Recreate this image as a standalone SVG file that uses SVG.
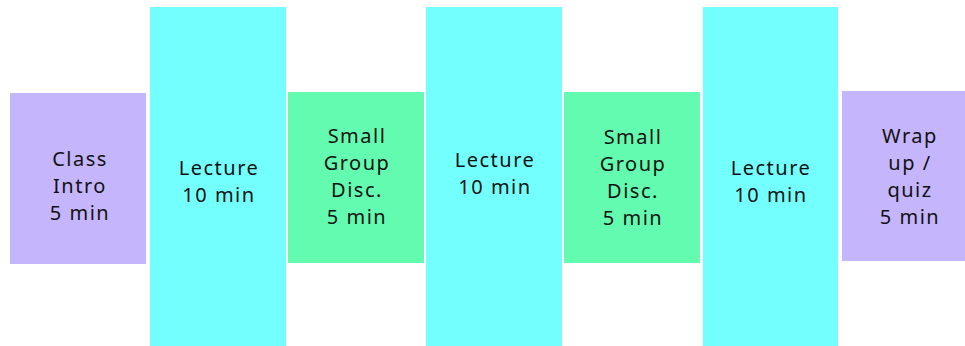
<svg xmlns="http://www.w3.org/2000/svg" width="965" height="346" viewBox="0 0 965 346">
  <style>
    .intro { fill: #c4b5fc; }
    .lecture { fill: #72fffd; }
    .group { fill: #63fbb0; }
    text { font-family: "Noto Sans", "DejaVu Sans", sans-serif; font-size: 20px; letter-spacing: 1.5px; fill: #111; text-anchor: middle; }
  </style>
  <rect width="965" height="346" fill="#ffffff"/>

  <g id="class-intro">
    <rect class="intro" x="10" y="93" width="136" height="171"/>
    <text x="80" y="166">Class</text>
    <text x="80" y="193">Intro</text>
    <text x="80" y="220">5 min</text>
  </g>

  <g id="lecture-1">
    <rect class="lecture" x="150" y="7" width="136" height="339"/>
    <text x="219" y="175">Lecture</text>
    <text x="219" y="202">10 min</text>
  </g>

  <g id="small-group-1">
    <rect class="group" x="288" y="92" width="136" height="171"/>
    <text x="357" y="143">Small</text>
    <text x="357" y="170">Group</text>
    <text x="357" y="197">Disc.</text>
    <text x="357" y="224">5 min</text>
  </g>

  <g id="lecture-2">
    <rect class="lecture" x="426" y="7" width="136" height="339"/>
    <text x="495" y="167">Lecture</text>
    <text x="495" y="194">10 min</text>
  </g>

  <g id="small-group-2">
    <rect class="group" x="564" y="92" width="136" height="171"/>
    <text x="633" y="144">Small</text>
    <text x="633" y="171">Group</text>
    <text x="633" y="198">Disc.</text>
    <text x="633" y="225">5 min</text>
  </g>

  <g id="lecture-3">
    <rect class="lecture" x="703" y="7" width="135" height="339"/>
    <text x="771" y="175">Lecture</text>
    <text x="771" y="202">10 min</text>
  </g>

  <g id="wrap-up">
    <rect class="intro" x="842" y="91" width="123" height="170"/>
    <text x="910" y="143">Wrap</text>
    <text x="910" y="170">up /</text>
    <text x="910" y="197">quiz</text>
    <text x="910" y="224">5 min</text>
  </g>

  <g id="connectors"/>
</svg>
